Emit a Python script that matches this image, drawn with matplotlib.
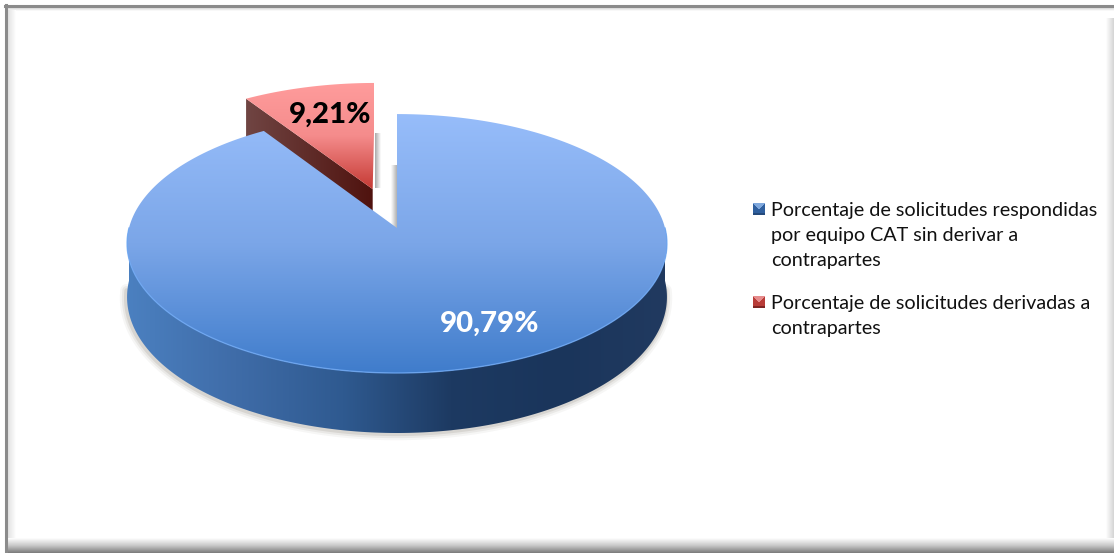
import numpy as np
import matplotlib
matplotlib.use("Agg")
import matplotlib.pyplot as plt
from matplotlib.colors import LinearSegmentedColormap, to_rgb
from matplotlib.patches import Polygon

categorias = ["Porcentaje de solicitudes respondidas\npor equipo CAT sin derivar a\ncontrapartes",
              "Porcentaje de solicitudes derivadas a\ncontrapartes"]
porcentajes = [90.79, 9.21]

W, H = 1114, 553
plt.rcParams["font.family"] = ["Lato", "DejaVu Sans"]

# pie geometry in pixels, with a simple perspective for the disc
CX, CY = 397, 228
A, B, K = 268, 127.6, 0.12
DEPTH = 52.8
EXPLODE = 0.33

fig = plt.figure(figsize=(W / 100, H / 100), dpi=100)
ax = fig.add_axes([0, 0, 1, 1])
ax.axis("off")


def proj(u, v, z=0):
    d = 1 + K * v
    return CX + A * u / d, CY - B * v / d + z * DEPTH / d


def grad(c_list, extent, vertical=True, clip=None, zorder=1):
    cmap = LinearSegmentedColormap.from_list("g", c_list)
    n = np.linspace(0, 1, 256)
    arr = n[:, None] if vertical else n[None, :]
    im = ax.imshow(arr, cmap=cmap, extent=extent, aspect="auto", zorder=zorder,
                   interpolation="bilinear", origin="upper", vmin=0, vmax=1)
    if clip is not None:
        patch = Polygon(clip, closed=True, transform=ax.transData, fc="none", ec="none")
        ax.add_patch(patch)
        im.set_clip_path(patch)
    return im


# chart frame
grad(["#d8d8d8", "#ffffff"], (8, W, 11, 8), zorder=0)
grad(["#e2e2e2", "#ffffff"], (8, 16, H, 10), vertical=False, zorder=0.1)
grad(["#ffffff", "#d4d4d4"], (1106, W, H, 18), vertical=False, zorder=0.1)
grad(["#ffffff", "#c8c8c8", "#7a7a7a"], (7, W, H, 538), zorder=0.2)
ax.plot([5, W], [6, 6], color="#8b8b8b", lw=2.2, zorder=0.4)
ax.plot([6, 6], [5, H], color="#8b8b8b", lw=2.2, zorder=0.4)

# angle of each slice comes from its percentage
ang_rojo = np.deg2rad(porcentajes[1] * 3.6)
ang_mid = ang_rojo / 2
off_u, off_v = -EXPLODE * np.sin(ang_mid), EXPLODE * np.cos(ang_mid)

# soft shadows next to the cut faces
grad(["#a9a9a9", "#ffffff"], (375, 381, 188, 133), vertical=False, zorder=1)
grad(["#ffffff", "#b0b0b0"], (391, 397, 228, 165), vertical=False, zorder=1)

# red slice
t = np.linspace(-ang_rojo, 0, 60)
ux, uy = proj(off_u + np.sin(t), off_v + np.cos(t))
tx, ty = proj(off_u, off_v)
rojo_top = np.column_stack([np.r_[tx, ux], np.r_[ty, uy]])
cx0, cy0 = proj(off_u - np.sin(ang_rojo), off_v + np.cos(ang_rojo))
cx1, cy1 = proj(off_u - np.sin(ang_rojo), off_v + np.cos(ang_rojo), 1)
tx1, ty1 = proj(off_u, off_v, 1)
pared = [(cx0, cy0), (tx, ty), (tx1, ty1), (cx1, cy1)]
grad(["#704543", "#4f120e"], (cx0, tx + 1, ty1 + 2, cy0), vertical=False, clip=pared, zorder=2)
grad(["#ff9c9c", "#f58c8c", "#c53a34"], (cx0, tx + 1, ty, uy.min()), clip=rojo_top, zorder=2.1)

# blue slice, soft shadow under the rim first
fr = np.linspace(np.pi * 0.52, np.pi * 1.48, 200)
sx, sy = proj(np.sin(fr), np.cos(fr), 1)
for lw, al in zip([9, 6, 3], [0.05, 0.08, 0.12]):
    ax.plot(sx - 1, sy + 1, color="#5a5040", lw=lw, alpha=al, zorder=2.5, solid_capstyle="round")

fr = np.linspace(np.pi / 2, np.pi * 1.5, 200)
x0, y0 = proj(np.sin(fr), np.cos(fr))
x1, y1 = proj(np.sin(fr), np.cos(fr), 1)
rim = np.column_stack([np.r_[x0, x1[::-1]], np.r_[y0, y1[::-1]]])
lado = ["#4b80c0", "#3f6ca8", "#2f5a90", "#1d3a62", "#1a355b", "#213a60"]
grad(lado, (127, 667, 440, 228), vertical=False, clip=rim, zorder=3)

t = np.linspace(0, 2 * np.pi - ang_rojo, 300)
bx, by = proj(np.sin(t), np.cos(t))
cx_, cy_ = proj(0, 0)
azul_top = np.column_stack([np.r_[cx_, bx], np.r_[cy_, by]])
grad(["#97bdfa", "#7ba6e8", "#3f7ccb"], (120, 675, 374, 113), clip=azul_top, zorder=4)
ax.plot(x0, y0, color="#6ea8f4", lw=1.0, alpha=0.8, zorder=4.2)

# value labels
ax.text(490, 324, f"{porcentajes[0]:.2f}%".replace(".", ","), color="white", fontsize=21.2,
        fontweight="black", ha="center", va="center", zorder=5)
ax.text(330, 115, f"{porcentajes[1]:.2f}%".replace(".", ","), color="black", fontsize=21.2,
        fontweight="black", ha="center", va="center", zorder=5)

# legend
colores = [("#7fa8dd", "#2f5f9e", "#254a7c"), ("#e68c8c", "#b83c38", "#7f2523")]
posiciones = [(203, 202), (296, 294.5)]
for nombre, col, (ym, yt) in zip(categorias, colores, posiciones):
    n = 12
    yy, xx = np.mgrid[0:n, 0:n]
    arriba = (yy < xx + 1) & (yy < n - xx)
    img = np.zeros((n, n, 3))
    for c in range(3):
        img[..., c] = np.where(arriba, to_rgb(col[0])[c], to_rgb(col[1])[c])
    img[-2:, :] = to_rgb(col[2])
    ax.imshow(img, extent=(753, 765, ym + 12, ym), aspect="auto", zorder=5, interpolation="bilinear")
    ax.text(771, yt, nombre, fontsize=14.2, color="#111111", va="top", ha="left",
            linespacing=1.585, zorder=5)

ax.set_xlim(0, W)
ax.set_ylim(H, 0)
fig.savefig("out.png", dpi=100)
